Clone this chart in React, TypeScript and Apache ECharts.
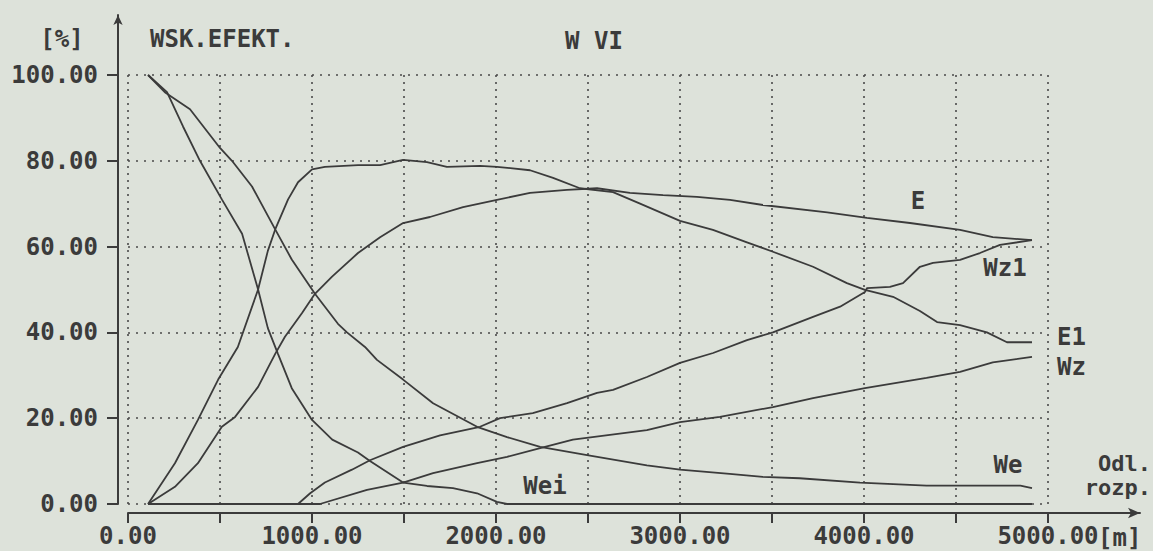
import React, { useEffect, useRef } from 'react';
import * as echarts from 'echarts';

// ---------- data (distance [m], efficiency [%]) ----------
const weiX = [109, 212, 299, 391, 510, 620, 707, 760, 815, 890, 1000, 1110, 1250, 1315, 1495, 1625, 1766, 1897, 2005, 2060, 4913];
const weiY = [100, 96, 88, 80, 71, 63, 50, 41, 35, 27, 19.6, 15, 12, 10, 5, 4.2, 3.7, 2.5, 0.5, 0, 0];

const weX = [109, 200, 337, 500, 565, 674, 800, 890, 1016, 1141, 1190, 1288, 1353, 1495, 1658, 1897, 2060, 2240, 2495, 2820, 3000, 3270, 3450, 3650, 3978, 4340, 4850, 4913];
const weY = [100, 96, 92, 83, 80, 74, 64, 57, 49, 42, 40, 36.6, 33.6, 29, 23.5, 18, 15.6, 13.3, 11.4, 9, 8, 7, 6.3, 6, 5, 4.3, 4.3, 3.7];

const e1X = [109, 255, 380, 490, 597, 707, 760, 800, 870, 924, 1000, 1070, 1250, 1370, 1495, 1625, 1733, 1913, 2005, 2185, 2310, 2456, 2636, 2783, 3000, 3179, 3364, 3505, 3723, 3907, 4005, 4158, 4304, 4397, 4522, 4668, 4777, 4913];
const e1Y = [0, 9.5, 19.6, 29, 36.6, 50, 59, 64, 71, 75, 78, 78.6, 79, 79, 80.2, 79.7, 78.6, 78.8, 78.6, 77.8, 76, 73.6, 72.7, 70, 66, 63.9, 61, 58.8, 55.3, 51.5, 49.9, 48.3, 45, 42.4, 41.7, 40, 37.7, 37.7];

const eX = [109, 255, 380, 510, 582, 707, 800, 853, 946, 1016, 1109, 1250, 1370, 1495, 1641, 1821, 2005, 2185, 2386, 2549, 2728, 2908, 3092, 3272, 3451, 3800, 4016, 4250, 4522, 4700, 4913];
const eY = [0, 4, 9.5, 18, 20.3, 27.3, 35, 39, 44.5, 49, 53, 58.5, 62.2, 65.5, 66.9, 69.2, 70.9, 72.5, 73.2, 73.6, 72.5, 72, 71.6, 70.9, 69.7, 68, 66.7, 65.5, 63.9, 62.2, 61.5];

const wz1X = [109, 924, 990, 1070, 1217, 1315, 1495, 1696, 1913, 2022, 2200, 2386, 2549, 2636, 2820, 3000, 3180, 3364, 3505, 3723, 3870, 4005, 4016, 4141, 4212, 4304, 4375, 4522, 4630, 4739, 4913];
const wz1Y = [0, 0, 2.5, 5, 8, 10.2, 13.3, 16, 18, 20, 21.2, 23.5, 25.9, 26.6, 29.6, 32.9, 35.2, 38.2, 40, 43.6, 46, 49.4, 50.3, 50.6, 51.5, 55.3, 56.2, 56.9, 58.5, 60.4, 61.5];

const wzX = [109, 1043, 1299, 1495, 1658, 1897, 2060, 2240, 2418, 2820, 3000, 3217, 3505, 3723, 4005, 4340, 4522, 4700, 4913];
const wzY = [0, 0, 3.3, 5, 7.2, 9.5, 11, 13, 15, 17.2, 19.1, 20.3, 22.6, 24.7, 27, 29.4, 30.8, 33, 34.3];

const yTicks = [0, 20, 40, 60, 80, 100];
const xTicks = [0, 500, 1000, 1500, 2000, 2500, 3000, 3500, 4000, 4500, 5000];
const xLabels = [0, 1000, 2000, 3000, 4000, 5000];

// ---------- style ----------
const FONT = "'DejaVu Sans Mono', monospace";
const INK = '#3b3b3b';
const BG = '#dde2da';
const FS = 24;

const pairs = (xs: number[], ys: number[]) => xs.map((x, i) => [x, ys[i]]);

const mkSeries = (name: string, xs: number[], ys: number[]) => ({
  name,
  type: 'line',
  xAxisIndex: 0,
  yAxisIndex: 0,
  data: pairs(xs, ys),
  showSymbol: false,
  symbol: 'none',
  silent: true,
  lineStyle: { color: INK, width: 1.8 },
  z: 5,
});

const txt = (text: string, x: number, y: number, align: string = 'center', size: number = FS) => ({
  type: 'text',
  x,
  y,
  silent: true,
  style: {
    text,
    fill: INK,
    font: `bold ${size}px ${FONT}`,
    textAlign: align,
    textVerticalAlign: 'middle',
  },
});

export default function App() {
  const ref = useRef<HTMLDivElement>(null);
  useEffect(() => {
    const chart = echarts.init(ref.current!, null, { renderer: 'svg' });
    const labelStyle = {
      color: INK,
      fontFamily: FONT,
      fontSize: FS,
      fontWeight: 'bold',
    };
    chart.setOption({
      animation: false,
      backgroundColor: BG,
      grid: [
        { left: 128, top: 75, width: 920, height: 429 },
        { left: 128, top: 75, width: 1012, height: 438 },
        { left: 118, top: 15, width: 1, height: 489 },
      ],
      xAxis: [
        {
          type: 'value', gridIndex: 0, min: 0, max: 5000, interval: 500,
          axisLine: { show: false }, axisTick: { show: false }, axisLabel: { show: false },
          splitLine: { show: true, lineStyle: { color: '#4a4a4a', width: 1.6, type: [2, 5] } },
        },
        {
          type: 'value', gridIndex: 1, min: 0, max: 5500, interval: 500, position: 'bottom',
          axisLine: { show: true, lineStyle: { color: INK, width: 2 }, symbol: ['none', 'arrow'], symbolSize: [8, 12] },
          axisTick: { show: true, length: 10, lineStyle: { color: INK, width: 2 }, customValues: xTicks },
          axisLabel: {
            show: true, margin: 11, customValues: xLabels, ...labelStyle,
            formatter: (v: number) => v.toFixed(2),
          },
          splitLine: { show: false },
        },
        { type: 'value', gridIndex: 2, min: 0, max: 1, show: false },
      ],
      yAxis: [
        {
          type: 'value', gridIndex: 0, min: 0, max: 100, interval: 20,
          axisLine: { show: false }, axisTick: { show: false }, axisLabel: { show: false },
          splitLine: { show: true, lineStyle: { color: '#4a4a4a', width: 1.6, type: [2, 6] } },
        },
        { type: 'value', gridIndex: 1, min: 0, max: 1, show: false },
        {
          type: 'value', gridIndex: 2, min: 0, max: 114, position: 'left',
          axisLine: { show: true, lineStyle: { color: INK, width: 2 }, symbol: ['none', 'arrow'], symbolSize: [7, 10] },
          axisTick: { show: true, length: 11, lineStyle: { color: INK, width: 2 }, customValues: yTicks },
          axisLabel: {
            show: true, margin: 20, customValues: yTicks, ...labelStyle,
            formatter: (v: number) => v.toFixed(2),
          },
          splitLine: { show: false },
        },
      ],
      series: [
        mkSeries('Wei', weiX, weiY),
        mkSeries('We', weX, weY),
        mkSeries('E1', e1X, e1Y),
        mkSeries('E', eX, eY),
        mkSeries('Wz1', wz1X, wz1Y),
        mkSeries('Wz', wzX, wzY),
      ],
      graphic: [
        txt('[%]', 62, 39),
        txt('WSK.EFEKT.', 150, 39, 'left'),
        txt('W VI', 594, 41),
        txt('E', 918, 201),
        txt('Wz1', 1005, 268),
        txt('E1', 1057, 337, 'left'),
        txt('Wz', 1057, 367, 'left'),
        txt('We', 1008, 465),
        txt('Wei', 545, 486),
        txt('Odl.', 1151, 463, 'right', 22),
        txt('rozp.', 1151, 487, 'right', 22),
        txt('[m]', 1098, 538, 'left'),
      ],
    });
    return () => chart.dispose();
  }, []);
  return (
    <div
      ref={ref}
      style={{ position: 'fixed', left: 0, top: 0, width: 1153, height: 551, background: BG }}
    />
  );
}
